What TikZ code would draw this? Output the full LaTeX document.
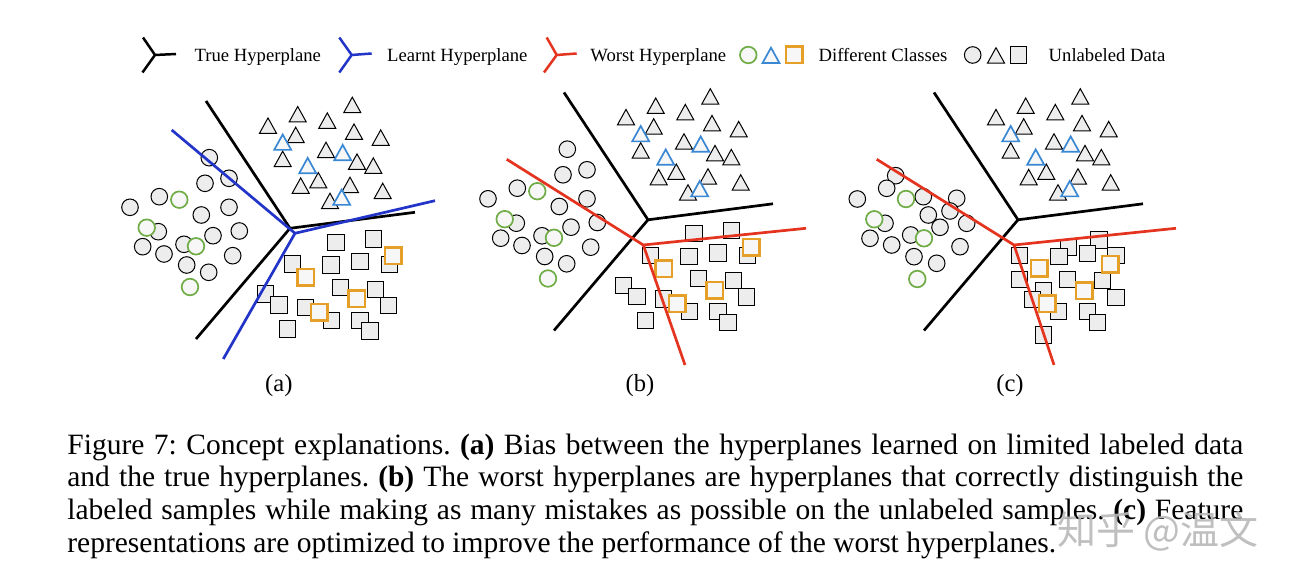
\documentclass[tikz,border=0pt]{standalone}
\usepackage{fontspec}
\setmainfont{Liberation Serif}
\newfontfamily\cjk{Noto Sans CJK SC}
\definecolor{shapefill}{HTML}{EDEDED}
\definecolor{lightfill}{HTML}{F7F7F7}
\definecolor{blueline}{HTML}{2334C8}
\definecolor{redline}{HTML}{E4341F}
\definecolor{greenc}{HTML}{70AD47}
\definecolor{bluet}{HTML}{3A88D4}
\definecolor{orangec}{HTML}{E6A028}
\newcommand\shcirc[3]{\draw[#1] (#2,#3) circle[radius=4.15pt];}
\newcommand\shtri[3]{\draw[#1,shift={(#2,#3)}] (-8.5,7.6) -- (8.5,7.6) -- (0,-7.8) -- cycle;}
\newcommand\shsq[3]{\draw[#1,shift={(#2,#3)}] (-8.2,-8.2) rectangle (8.2,8.2);}
% panel (a) data (also used shifted for (b) and (c))
\def\Acirc{209.3/157.7, 205/183.3, 229/178.3, 159.3/196.7, 130/207.3, 201.3/215, 229/207.3, 158.3/231.7, 213/235.7, 239.3/231, 142.7/246.7, 164/254, 184/244.3, 186.7/265, 232.7/255.7, 208.7/272.3}
\def\Agcirc{179.3/199.7, 146.7/227.7, 196/246.3, 190/287}
\def\Atri{268/125.7, 297.7/114.3, 352.3/105, 327.3/120.7, 295.7/135, 354/131.7, 380.7/137.7, 282.7/159, 326/150, 357/161.7, 373.3/165.7, 300.7/185.7, 318.3/180.3, 350/185, 382.7/191, 330/201}
\def\Abtri{282.7/142.3, 342.7/152.7, 307.7/165.7, 341.7/197.3}
\def\Asq{336/242.3, 373.3/239, 292.7/264, 331/265, 360/261.7, 389.3/264.3, 340.7/287.3, 375.7/289.3, 265.3/294, 279/305, 305.7/307.7, 388.3/305.7, 331.7/320.3, 360/320.3, 287.7/329, 370/331}
\def\Aosq{393.3/255.7, 305.7/277.3, 356.7/298.7, 319.3/312.3}
% panel (c) moved data (absolute)
\def\Ccirc{895.7/175.7, 886.7/188.3, 857.3/199, 923.3/196.7, 956.7/198.3, 928.3/215, 950/211, 885/223.3, 940/227.3, 966.7/223.3, 870/238.3, 891.7/245, 910.7/235, 914/256.7, 960/246.7, 936.7/263.3}
\def\Cgcirc{906/199, 874.3/219.3, 924/238.3, 917.3/279}
\def\Csq{1099/240, 1068.3/247.3, 1059/256.7, 1087.3/253.3, 1116/255.3, 1019.3/255.7, 1019.3/279.3, 1067.7/279.3, 1102.7/280.7, 1043.3/290.7, 1032.7/299.3, 1058.7/311.7, 1116/297.7, 1087.7/311.7, 1097.7/322.3, 1043.3/335}
\def\Cosq{1110/264.3, 1039.3/268.3, 1084.3/290.7, 1047.3/304}
\begin{document}
\frenchspacing
\begin{tikzpicture}[x=0.5pt,y=-0.5pt,
  plane/.style={line width=1.35pt,line join=round},
  legplane/.style={line width=1.25pt},
  graysh/.style={draw=black,line width=0.5pt,fill=shapefill},
  greensh/.style={draw=greenc,line width=0.85pt,fill=lightfill},
  bluesh/.style={draw=bluet,line width=0.85pt,fill=lightfill},
  orangesh/.style={draw=orangec,line width=1.3pt,fill=lightfill},
  legtext/.style={font=\fontsize{9.33}{11}\selectfont,anchor=base west,inner sep=0pt},
  captext/.style={font=\fontsize{14.75}{16}\selectfont,anchor=base west,inner sep=0pt},
  panellabel/.style={font=\fontsize{12.3}{14}\selectfont,inner sep=0pt}]
\useasboundingbox[fill=white] (0,0) rectangle (1292,581);

% ---------- legend ----------
\draw[legplane,black] (143,37.5) -- (155,55) -- (176,54) (155,55) -- (142.5,72.5);
\node[legtext] (lt) at (194.3,61.5) {True Hyperplane};
\draw[legplane,blueline] (339.3,37.5) -- (351.7,55) -- (371.7,53.5) (351.7,55) -- (339.3,72.5);
\node[legtext] (ll) at (386.7,61.5) {Learnt Hyperplane};
\draw[legplane,redline] (546.7,37.5) -- (556.7,55) -- (576.7,53.5) (556.7,55) -- (544,72.5);
\node[legtext] (lw) at (590,61.5) {Worst Hyperplane};
\shcirc{greensh}{748.3}{55}
\shtri{bluesh}{771}{55.5}
\shsq{orangesh}{794}{55}
\node[legtext] (ld) at (818.3,61.5) {Different Classes};
\shcirc{graysh}{972.7}{55}
\shtri{graysh}{996}{55.5}
\shsq{graysh}{1018.3}{55}
\node[legtext] (lu) at (1048.3,61.5) {Unlabeled Data};

% ---------- panel (a) ----------
\foreach \x/\y in \Acirc {\shcirc{graysh}{\x}{\y}}
\foreach \x/\y in \Agcirc {\shcirc{greensh}{\x}{\y}}
\foreach \x/\y in \Atri {\shtri{graysh}{\x}{\y}}
\foreach \x/\y in \Abtri {\shtri{bluesh}{\x}{\y}}
\foreach \x/\y in \Asq {\shsq{graysh}{\x}{\y}}
\foreach \x/\y in \Aosq {\shsq{orangesh}{\x}{\y}}
\draw[plane,black] (206,101) -- (290,228.3) -- (415,212.3) (290,228.3) -- (196,339);
\draw[plane,blueline] (171.7,130) -- (295,233.3) -- (435,200.7) (295,233.3) -- (223.3,359);
\node[panellabel] (la) at (278.8,385.5) {(a)};

% ---------- panel (b) ----------
\begin{scope}[shift={(358,-8.5)}]
\foreach \x/\y in \Acirc {\shcirc{graysh}{\x}{\y}}
\foreach \x/\y in \Agcirc {\shcirc{greensh}{\x}{\y}}
\foreach \x/\y in \Atri {\shtri{graysh}{\x}{\y}}
\foreach \x/\y in \Abtri {\shtri{bluesh}{\x}{\y}}
\foreach \x/\y in \Asq {\shsq{graysh}{\x}{\y}}
\foreach \x/\y in \Aosq {\shsq{orangesh}{\x}{\y}}
\draw[plane,black] (206,101) -- (290,228.3) -- (415,212.3) (290,228.3) -- (196,339);
\end{scope}
\draw[plane,redline] (506.7,159.3) -- (643.3,245) -- (806,228.3) (643.3,245) -- (685,365);
\node[panellabel] (lb) at (640,385.5) {(b)};

% ---------- panel (c) ----------
\foreach \x/\y in \Ccirc {\shcirc{graysh}{\x}{\y}}
\foreach \x/\y in \Cgcirc {\shcirc{greensh}{\x}{\y}}
\begin{scope}[shift={(728,-8.5)}]
\foreach \x/\y in \Atri {\shtri{graysh}{\x}{\y}}
\foreach \x/\y in \Abtri {\shtri{bluesh}{\x}{\y}}
\draw[plane,black] (206,101) -- (290,228.3) -- (415,212.3) (290,228.3) -- (196,339);
\end{scope}
\foreach \x/\y in \Csq {\shsq{graysh}{\x}{\y}}
\foreach \x/\y in \Cosq {\shsq{orangesh}{\x}{\y}}
\draw[plane,redline] (876.7,159.3) -- (1014,245) -- (1176,228.3) (1014,245) -- (1054,365);
\node[panellabel] (lc) at (1010,385.5) {(c)};

% ---------- caption ----------
\node[captext] (c1) at (67,454.3) {\makebox[588pt][s]{Figure 7: Concept explanations. \textbf{(a)} Bias between the hyperplanes learned on limited labeled data}};
\node[captext] (c2) at (67,487) {\makebox[588pt][s]{and the true hyperplanes. \textbf{(b)} The worst hyperplanes are hyperplanes that correctly distinguish the}};
\node[captext] (c3) at (67,519.7) {\makebox[588pt][s]{labeled samples while making as many mistakes as possible on the unlabeled samples. \textbf{(c)} Feature}};
\node[captext] (c4) at (67,552.4) {representations are optimized to improve the performance of the worst hyperplanes.};

% ---------- watermark ----------
\node[font=\cjk\fontsize{19.5}{19.5}\selectfont,text=gray!55,opacity=0.9,inner sep=0pt] (wm) at (1158,531) {知乎 @温文};
\end{tikzpicture}
\end{document}
